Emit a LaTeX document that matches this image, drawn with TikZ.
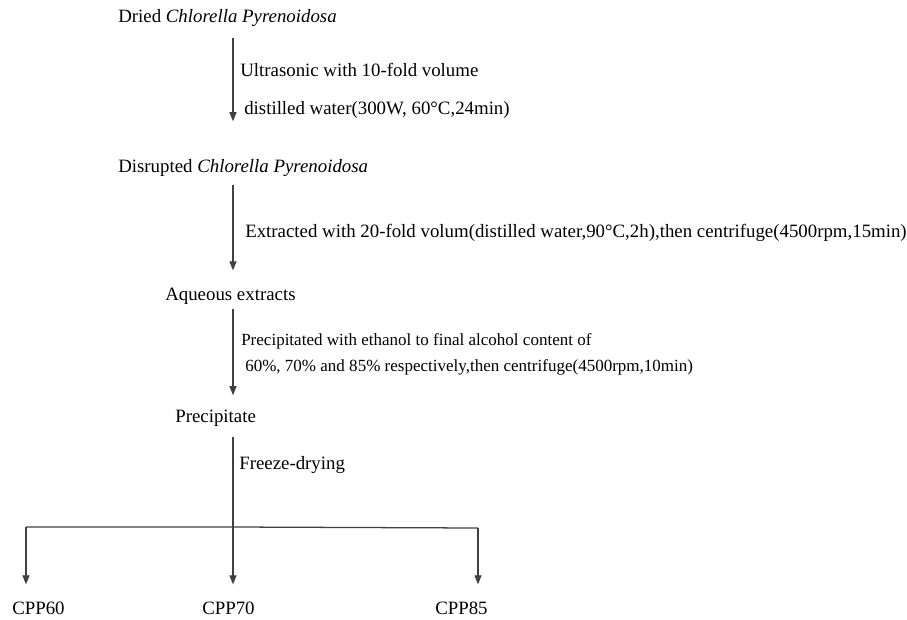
\documentclass[tikz,border=0pt]{standalone}
\usepackage{fontspec}
\setmainfont{Liberation Serif}
\usetikzlibrary{arrows.meta,positioning,calc}

\begin{document}
\begin{tikzpicture}[x=0.025cm,y=-0.025cm,
  every node/.style={font=\fontsize{13.4}{15}\selectfont,inner sep=0pt,
    text height=9pt,text depth=3pt},
  stage/.style={anchor=west},
  note/.style={anchor=west},
  smallnote/.style={note,font=\fontsize{12.1}{14}\selectfont},
  flow/.style={draw=black!75,line width=0.9pt,
    -{Triangle[width=5pt,length=6.5pt]}}]
\useasboundingbox (0,0) rectangle (907,619);
\coordinate (spine) at (233,0);
% stages
\node[stage] (dried) at (118,18) {Dried \textit{Chlorella Pyrenoidosa}};
\node[stage] (disrupted) at (118,168) {Disrupted \textit{Chlorella Pyrenoidosa}};
\node[stage] (aqueous) at (165,296) {Aqueous extracts};
\node[stage] (precip) at (175,418) {Precipitate};
\node[stage] (cpp60) at (12,610) {CPP60};
\node[stage] (cpp70) at (202,610) {CPP70};
\node[stage] (cpp85) at (435,610) {CPP85};
% conditions
\node[note] (ultra) at (240,72) {Ultrasonic with 10-fold volume};
\node[note] (water) at (244,110) {distilled water(300W, 60\textdegree C,24min)};
\node[note] (extract) at (245,233) {Extracted with 20-fold volum(distilled water,90\textdegree C,2h),then centrifuge(4500rpm,15min)};
\node[smallnote] (ethanol) at (241,341) {Precipitated with ethanol to final alcohol content of};
\node[smallnote] (ratio) at (245,367) {60\%, 70\% and 85\% respectively,then centrifuge(4500rpm,10min)};
\node[note] (freeze) at (239,465) {Freeze-drying};
% arrows
\draw[flow,shorten <=8pt,shorten >=27pt] (dried.south -| spine) -- (disrupted.north -| spine);
\draw[flow,shorten <=6pt,shorten >=12pt] (disrupted.south -| spine) -- (aqueous.north -| spine);
\draw[flow,shorten <=3pt,shorten >=10pt] (aqueous.south -| spine) -- (precip.north -| spine);
\coordinate (split) at (233,527);
\coordinate (left) at (26,527);
\coordinate (right) at (478,528);
\draw[flow,shorten <=7pt,shorten >=12pt] (precip.south -| spine) -- (cpp70.north -| spine);
\draw[black!75,line width=0.9pt] (left) -- (split) -- (right);
\draw[flow,shorten >=12pt] (left) -- (left |- cpp60.north);
\draw[flow,shorten >=12pt] (right) -- (right |- cpp85.north);
\end{tikzpicture}
\end{document}
